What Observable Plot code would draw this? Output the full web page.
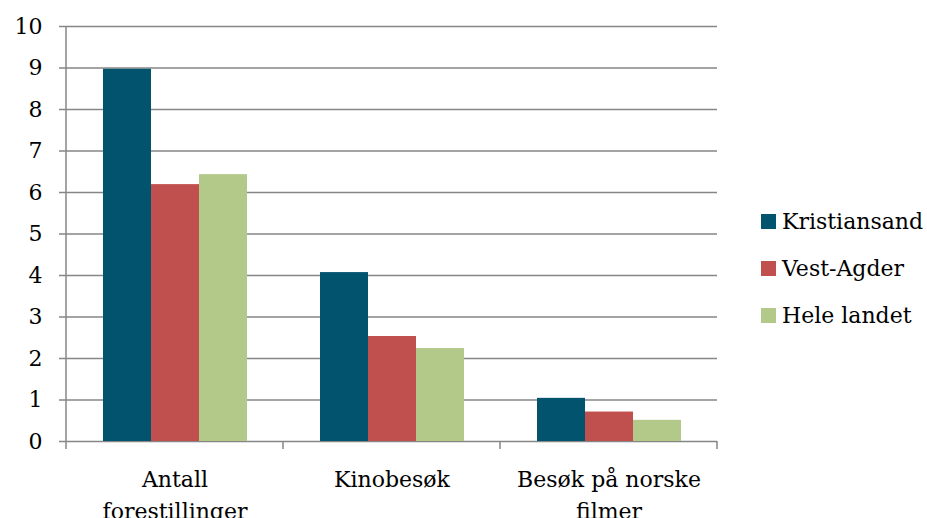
<!DOCTYPE html>
<html>
<head>
<meta charset="utf-8">
<script src="https://cdn.jsdelivr.net/npm/d3@7"></script>
<script src="https://cdn.jsdelivr.net/npm/@observablehq/plot@0.6"></script>
<style>
  html, body { margin: 0; padding: 0; background: #fff; }
  #wrap { position: relative; width: 927px; height: 518px; font-family: "DejaVu Serif", serif; }
  .item { position: absolute; left: 761px; display: flex; align-items: center; height: 30px; font-size: 22px; color: #000; white-space: nowrap; }
  .sw { width: 15px; height: 15px; margin-right: 6px; flex: none; }
</style>
</head>
<body>
<div id="wrap"><div id="chart"></div></div>
<script>
const categories = ["Antall forestillinger", "Kinobesøk", "Besøk på norske filmer"];
const categoryLabels = ["Antall\nforestillinger", "Kinobesøk", "Besøk på norske\nfilmer"];
const series = ["Kristiansand", "Vest-Agder", "Hele landet"];
const kristiansand = [8.97, 4.07, 1.04];
const vestAgder = [6.19, 2.53, 0.71];
const heleLandet = [6.43, 2.24, 0.51];
const colors = ["#02536E", "#C0504D", "#B3C98A"];
const yTicks = [0, 1, 2, 3, 4, 5, 6, 7, 8, 9, 10];

const seriesValues = [kristiansand, vestAgder, heleLandet];
const data = [];
categories.forEach((c, i) => series.forEach((s, j) => data.push({category: c, series: s, value: seriesValues[j][i]})));
const labelData = categories.map((c, i) => ({category: c, label: categoryLabels[i]}));

const grid = "#868686";
const chart = Plot.plot({
  width: 720, height: 518,
  marginLeft: 65, marginRight: 2, marginTop: 26, marginBottom: 77,
  style: {fontFamily: "DejaVu Serif", fontSize: "22px", color: "black", background: "white", overflow: "visible"},
  fx: {domain: categories, padding: 0, axis: null},
  x: {domain: series, paddingInner: 0, paddingOuter: 0.73, axis: null},
  y: {domain: [0, 10], axis: null, label: null},
  color: {domain: series, range: colors},
  marks: [
    Plot.ruleY(yTicks, {y: d => d, stroke: grid, strokeWidth: 1.5}),
    Plot.axisY({ticks: yTicks, tickSize: 7, tickPadding: 17, stroke: grid, strokeWidth: 1.5, fill: "black", fontSize: 22, tickFormat: d => String(d), label: null}),
    Plot.barY(data, {fx: "category", x: "series", y: "value", fill: "series"}),
    Plot.text(labelData, {fx: "category", text: "label", frameAnchor: "bottom", dy: 23, lineAnchor: "top", lineHeight: 1.45, fontSize: 22, fill: "black"})
  ]
});
document.getElementById("chart").appendChild(chart);

// axis line and category boundary ticks, positioned through the plot's scales
const fx = chart.scale("fx"), y = chart.scale("y");
const y0 = y.apply(0), y10 = y.apply(10);
const edges = categories.map(c => fx.apply(c));
edges.push(fx.apply(categories[categories.length - 1]) + fx.bandwidth);
const g = d3.select(chart).append("g").attr("stroke", grid).attr("stroke-width", 1.5);
g.append("line").attr("x1", edges[0]).attr("x2", edges[0]).attr("y1", y10).attr("y2", y0);
edges.forEach(x => g.append("line").attr("x1", x).attr("x2", x).attr("y1", y0).attr("y2", y0 + 8));

const wrap = document.getElementById("wrap");
series.forEach((s, i) => {
  const item = document.createElement("div");
  item.className = "item";
  item.style.top = (206 + i * 47) + "px";
  const sw = document.createElement("div");
  sw.className = "sw";
  sw.style.background = colors[i];
  const t = document.createElement("span");
  t.textContent = s;
  item.appendChild(sw); item.appendChild(t);
  wrap.appendChild(item);
});
</script>
</body>
</html>
